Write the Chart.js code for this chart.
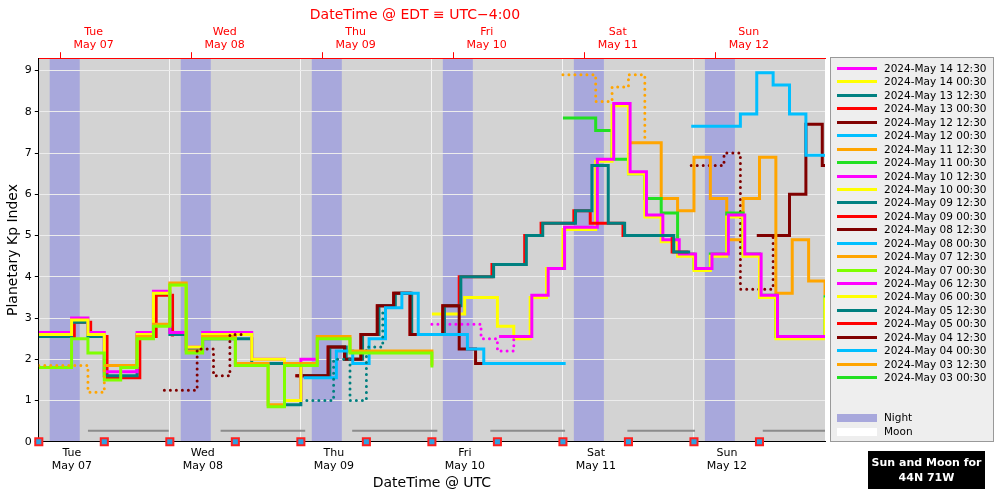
<!DOCTYPE html>
<html>
<head>
<meta charset="utf-8">
<script src="https://cdn.jsdelivr.net/npm/chart.js@4"></script>
<style>
  body { margin: 0; background: #fff; font-family: "DejaVu Sans", sans-serif; }
  #wrap { position: absolute; left: 0; top: 0; width: 1001px; height: 500px; }
  #legend { position: absolute; left: 830px; top: 57px; width: 164px; height: 385px;
    border: 1px solid #999; background: #eeeeee; font-size: 10.5px; box-sizing: border-box; padding-top: 4px; }
  .row { height: 13.45px; line-height: 13.45px; white-space: nowrap; position: relative; padding-left: 53px; }
  .sw { position: absolute; left: 6px; top: 5px; width: 40px; height: 3px; }
  .box { position: absolute; left: 6px; top: 3px; width: 40px; height: 8px; }
  #sun { position: absolute; left: 868px; top: 451px; width: 117px; height: 38px; background: #000;
    color: #fff; font-weight: bold; font-size: 11px; text-align: center; line-height: 15px; padding-top: 4px; box-sizing: border-box; white-space: nowrap; }
</style>
</head>
<body>
<div id="wrap"><canvas id="c" width="1001" height="500"></canvas></div>
<div id="legend"></div>
<div id="sun">Sun and Moon for<br>44N 71W</div>
<script>
// hours since 2024-05-07 00:00 UTC
var X_MIN = 0, X_MAX = 144;
var DAY_NAMES = ['Tue', 'Wed', 'Thu', 'Fri', 'Sat', 'Sun'];
var DAY_DATES = ['May 07', 'May 08', 'May 09', 'May 10', 'May 11', 'May 12'];

var LEGEND_LABELS = [
  '2024-May 14 12:30', '2024-May 14 00:30', '2024-May 13 12:30', '2024-May 13 00:30',
  '2024-May 12 12:30', '2024-May 12 00:30', '2024-May 11 12:30', '2024-May 11 00:30',
  '2024-May 10 12:30', '2024-May 10 00:30', '2024-May 09 12:30', '2024-May 09 00:30',
  '2024-May 08 12:30', '2024-May 08 00:30', '2024-May 07 12:30', '2024-May 07 00:30',
  '2024-May 06 12:30', '2024-May 06 00:30', '2024-May 05 12:30', '2024-May 05 00:30',
  '2024-May 04 12:30', '2024-May 04 00:30', '2024-May 03 12:30', '2024-May 03 00:30'
];
var LEGEND_COLORS = [
  '#ff00ff', '#ffff00', '#008080', '#ff0000', '#800000', '#00bfff', '#ffa500', '#22e022',
  '#ff00ff', '#ffff00', '#008080', '#ff0000', '#800000', '#00bfff', '#ffa500', '#7fff00',
  '#ff00ff', '#ffff00', '#008080', '#ff0000', '#800000', '#00bfff', '#ffa500', '#22e022'
];

// Kp forecasts, 3-hour steps
var orange03Dot = [1.85, 1.85, 1.2, 1.85, 1.85];
var darkred04Dot = [1.25, 2.25, 1.6, 2.6, 2.6];
var red05 = [2.55, 2.9, 2.55, 1.55, 1.55, 2.55, 3.55, 2.55];
var teal05 = [2.55, 2.9, 2.55, 1.6, 1.6, 2.6, 3.6, 2.6, 2.25, 2.5, 2.5, 2.5, 1.9, 1.9, 0.9, 1.9, 1.9];
var yellow06 = [2.6, 2.95, 2.6, 1.85, 1.85, 2.6, 3.6, 3.8, 2.3, 2.6, 2.6, 2.6, 2.0, 2.0, 1.0, 1.9, 1.9];
var magenta06 = [2.65, 3.0, 2.65, 1.7, 1.7, 2.65, 3.65, 2.65, 2.3, 2.65, 2.65, 2.65, 2.0, 2.0, 1.0, 2.0, 2.0];
var chartreuse07 = [1.8, 2.5, 2.15, 1.5, 1.8, 2.5, 2.8, 3.8, 2.15, 2.5, 2.5, 1.85, 1.85, 0.85, 1.85, 1.85,
  2.5, 2.5, 2.15, 2.15, 2.15, 2.15, 2.15, 1.8];
var orange07 = [1.85, 2.55, 2.85, 3.85, 2.2, 2.55, 2.55, 1.9, 1.9, 0.9, 1.9, 1.9, 2.55, 2.55, 2.2, 2.2,
  2.2, 2.2, 2.2, 1.85];
var teal08Dot = [1.0, 2.0, 1.0, 2.3, 3.2];
var sky08 = [1.55, 2.2, 1.9, 2.5, 3.25, 3.6, 2.6, 2.6, 2.6, 2.25, 1.9, 1.9, 1.9, 1.9, 1.9, 1.9];
var darkred08 = [1.6, 2.3, 2.0, 2.6, 3.3, 3.6, 2.6, 2.6, 3.3, 2.25, 1.9, 1.9, 1.9, 1.9, 1.9, 1.9];
var teal09 = [1.6, 2.3, 2.0, 2.6, 3.3, 3.6, 2.6, 2.6, 3.3, 4.0, 4.0, 4.3, 4.3, 5.0, 5.3, 5.3, 5.6, 6.7,
  5.3, 5.0, 5.0, 5.0, 4.6, 4.6];
var red09 = [1.6, 2.3, 2.0, 2.6, 3.3, 3.6, 2.6, 2.6, 3.3, 4.0, 4.0, 4.3, 4.3, 5.0, 5.3, 5.3, 5.6, 5.3,
  5.3, 5.0, 5.0, 5.0, 4.6, 4.6];
var yellow10 = [3.1, 3.5, 3.5, 2.8, 2.5, 3.5, 4.2, 5.15, 5.15, 6.8, 8.15, 6.5, 5.45, 4.85, 4.5, 4.15,
  4.5, 5.45, 4.5, 3.5, 2.5, 2.5, 2.5, 3.5];
var magenta10Dot = [2.85, 2.85, 2.5, 2.2, 2.55];
var magenta10 = [2.55, 3.55, 4.2, 5.2, 5.2, 6.85, 8.2, 6.55, 5.5, 4.9, 4.55, 4.2, 4.55, 5.5, 4.55, 3.55,
  2.55, 2.55, 2.55, 3.55];
var green11 = [7.85, 7.55, 6.85, 6.5, 5.9, 5.55, 4.55, 4.2, 4.55, 5.55, 4.55, 3.55, 2.55, 2.55, 2.55, 3.55];
var orange11Dot = [8.9, 8.25, 8.6, 8.9, 7.25];
var orange11 = [7.25, 5.9, 5.6, 6.9, 5.9, 4.9, 5.9, 6.9, 3.6, 4.9, 3.9, 3.55];
var sky12 = [7.65, 7.65, 7.95, 8.95, 8.65, 7.95, 6.95, 6.95, 5.95];
var darkred12Dot = [6.7, 7.0, 3.7, 3.7, 5.0];
var darkred12 = [5.0, 6.0, 7.7, 6.7, 5.0];

var SERIES = [
  { v: orange03Dot, start: 0, color: '#ffa500', dot: true },
  { v: darkred04Dot, start: 23, color: '#800000', dot: true },
  { v: chartreuse07, start: 0, color: '#7fff00' },
  { v: orange07, start: 12, color: '#ffa500' },
  { v: yellow06, start: 0, color: '#ffff00' },
  { v: magenta06, start: 0, color: '#ff00ff' },
  { v: teal05, start: 0, color: '#008080' },
  { v: red05, start: 0.5, color: '#ff0000' },
  { v: teal08Dot, start: 48, color: '#008080', dot: true },
  { v: sky08, start: 48.5, color: '#00bfff' },
  { v: darkred08, start: 47, color: '#800000' },
  { v: teal09, start: 47.3, color: '#008080' },
  { v: red09, start: 47, color: '#ff0000' },
  { v: magenta10Dot, start: 72, color: '#ff00ff', dot: true },
  { v: magenta10, start: 84.3, color: '#ff00ff' },
  { v: yellow10, start: 72, color: '#ffff00' },
  { v: green11, start: 96, color: '#22e022' },
  { v: orange11Dot, start: 96, color: '#ffa500', dot: true },
  { v: orange11, start: 108, color: '#ffa500' },
  { v: sky12, start: 119.5, color: '#00bfff' },
  { v: darkred12Dot, start: 119.5, color: '#800000', dot: true },
  { v: darkred12, start: 131.5, color: '#800000' }
];

var NIGHT_START = [2, 26, 50, 74, 98, 122];
var NIGHT_END = [7.5, 31.5, 55.5, 79.5, 103.5, 127.5];
var MOON_START = [9, 33.3, 57.4, 82.7, 107.8, 132.6];
var MOON_END = [23.8, 48.8, 73, 96.4, 120.2, 144];
var MARKER_HOURS = [0, 12, 24, 36, 48, 60, 72, 84, 96, 108, 120, 132];

// a point at the start of each 3-hour bin plus one closing point
function stepPoints(vals, start) {
  var pts = [{ x: start, y: vals[0] }];
  vals.forEach(function (v, i) { pts.push({ x: start + 3 * (i + 1), y: v }); });
  return pts;
}

var datasets = SERIES.map(function (s) {
  return {
    data: stepPoints(s.v, s.start),
    borderColor: s.color,
    borderWidth: 3,
    borderDash: s.dot ? [0, 6] : [],
    borderCapStyle: s.dot ? 'round' : 'butt',
    stepped: 'before',
    pointRadius: 0,
    fill: false
  };
});

// moon line segments, gaps with null
var moonPts = [];
MOON_START.forEach(function (s, i) {
  moonPts.push({ x: s, y: 0.27 }, { x: MOON_END[i], y: 0.27 }, { x: MOON_END[i] + 0.01, y: null });
});
datasets.unshift({
  data: moonPts, borderColor: '#8c8c8c', borderWidth: 2, pointRadius: 0, spanGaps: false
});
datasets.push({
  type: 'scatter',
  data: MARKER_HOURS.map(function (h) { return { x: h, y: 0 }; }),
  pointStyle: 'rect', pointRadius: 5, borderWidth: 2,
  borderColor: '#ff2020', backgroundColor: '#30a0e0', clip: false
});

var bgPlugin = {
  id: 'bgNight',
  beforeDraw: function (chart) {
    var ctx = chart.ctx, a = chart.chartArea, xs = chart.scales.x;
    ctx.save();
    ctx.fillStyle = '#d3d3d3';
    ctx.fillRect(a.left, a.top, a.right - a.left, a.bottom - a.top);
    ctx.fillStyle = '#a8a8dc';
    NIGHT_START.forEach(function (s, i) {
      var x0 = xs.getPixelForValue(s), x1 = xs.getPixelForValue(NIGHT_END[i]);
      ctx.fillRect(x0, a.top, x1 - x0, a.bottom - a.top);
    });
    ctx.restore();
  }
};

new Chart(document.getElementById('c').getContext('2d'), {
  type: 'line',
  data: { datasets: datasets },
  options: {
    responsive: false,
    animation: false,
    layout: { padding: { left: 5, right: 176, top: 0, bottom: 6 } },
    plugins: {
      legend: { display: false },
      tooltip: { enabled: false },
      title: {
        display: true, text: 'DateTime @ EDT \u2261 UTC\u22124:00', color: '#ff0000',
        font: { size: 14, family: 'DejaVu Sans', weight: 'normal' }, padding: { top: 7, bottom: 2 }
      }
    },
    scales: {
      x: {
        type: 'linear', min: X_MIN, max: X_MAX, position: 'bottom',
        afterBuildTicks: function (ax) {
          ax.ticks = MARKER_HOURS.map(function (h) { return { value: h }; });
        },
        ticks: {
          autoSkip: false, maxRotation: 0, labelOffset: 33, color: '#000', padding: 1,
          font: { size: 11, family: 'DejaVu Sans' },
          callback: function (v) {
            if (v % 24 !== 0) return '';
            var i = v / 24;
            return [DAY_NAMES[i], DAY_DATES[i]];
          }
        },
        grid: {
          color: function (c) { return c.tick && c.tick.value % 24 === 0 && c.tick.value > 0 ? '#f4f4f4' : 'rgba(0,0,0,0)'; },
          tickColor: '#000', tickLength: 4, lineWidth: 1
        },
        border: { color: '#000', width: 1 },
        title: { display: true, text: 'DateTime @ UTC', color: '#000', font: { size: 14, family: 'DejaVu Sans' }, padding: { top: 1, bottom: 2 } }
      },
      xTop: {
        type: 'linear', min: X_MIN, max: X_MAX, position: 'top',
        afterBuildTicks: function (ax) {
          ax.ticks = [4, 28, 52, 76, 100, 124].map(function (h) { return { value: h }; });
        },
        ticks: {
          autoSkip: false, maxRotation: 0, labelOffset: 33, color: '#ff0000', padding: 0,
          font: { size: 11, family: 'DejaVu Sans' },
          callback: function (v) {
            var i = (v - 4) / 24;
            return [DAY_NAMES[i], DAY_DATES[i]];
          }
        },
        grid: { drawOnChartArea: false, tickColor: '#ff0000', tickLength: 6 },
        border: { color: '#ff0000', width: 1 }
      },
      y: {
        min: 0, max: 9.3,
        afterBuildTicks: function (ax) {
          ax.ticks = [0, 1, 2, 3, 4, 5, 6, 7, 8, 9].map(function (v) { return { value: v }; });
        },
        ticks: { color: '#000', font: { size: 11, family: 'DejaVu Sans' }, padding: 3 },
        grid: { color: '#ececec', tickColor: '#000', tickLength: 4 },
        border: { color: '#000' },
        title: { display: true, text: 'Planetary Kp Index', color: '#000', font: { size: 14, family: 'DejaVu Sans' }, padding: 0 }
      }
    }
  },
  plugins: [bgPlugin]
});

// legend box
var leg = document.getElementById('legend');
var html = '';
LEGEND_LABELS.forEach(function (l, i) {
  html += '<div class="row"><span class="sw" style="background:' + LEGEND_COLORS[i] + '"></span>' + l + '</div>';
});
html += '<div class="row"></div><div class="row"></div>';
html += '<div class="row"><span class="box" style="background:#a8a8dc"></span>Night</div>';
html += '<div class="row"><span class="box" style="background:#ffffff"></span>Moon</div>';
leg.innerHTML = html;
</script>
</body>
</html>
